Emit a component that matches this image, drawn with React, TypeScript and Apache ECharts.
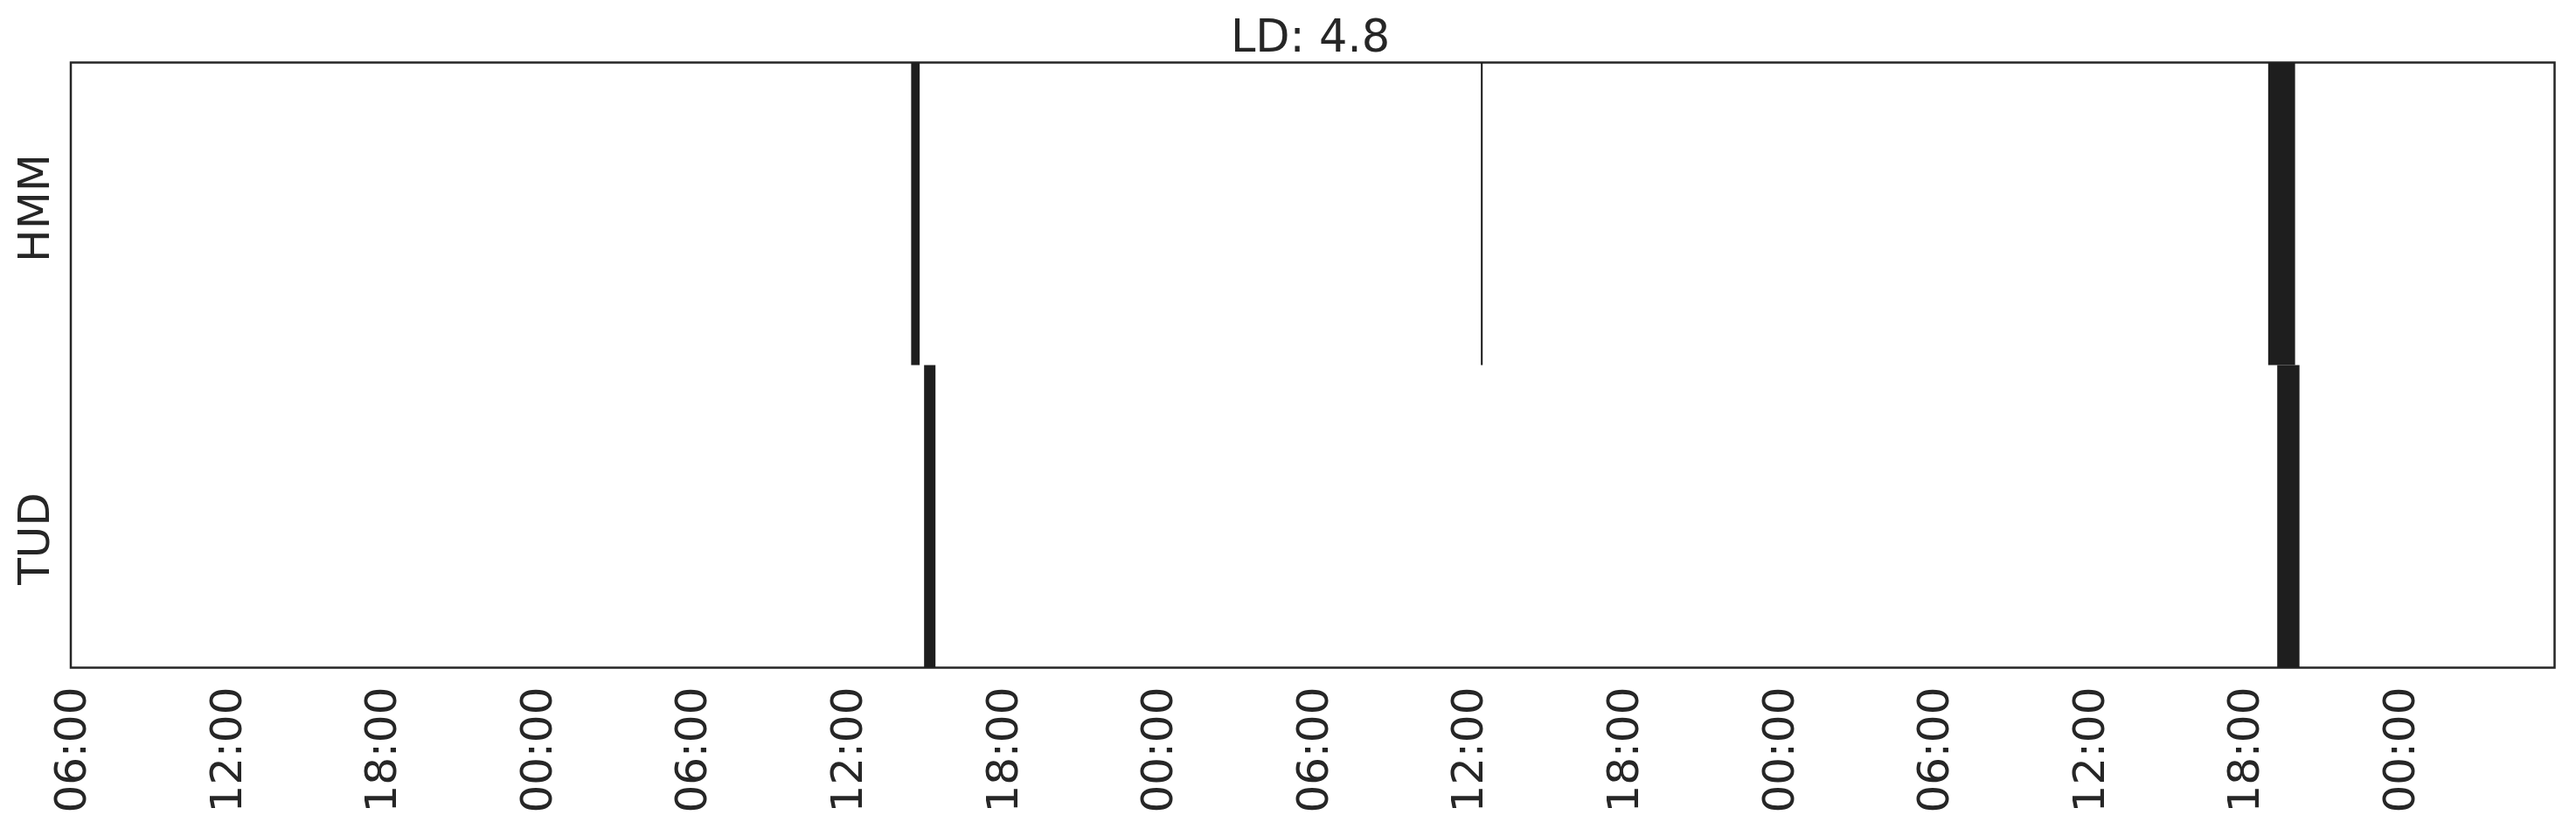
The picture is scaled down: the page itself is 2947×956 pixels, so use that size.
import React, { useEffect, useRef } from "react";
import * as echarts from "echarts";

// Rows (top to bottom)
const rows = ["HMM", "TUD"];
// Tick labels every 6 hours, starting 06:00 on day 1 (hours since start: 0, 6, 12, ...)
const tickLabels = [
  "06:00", "12:00", "18:00", "00:00", "06:00", "12:00", "18:00", "00:00",
  "06:00", "12:00", "18:00", "00:00", "06:00", "12:00", "18:00", "00:00",
];
// Intervals in hours since 06:00 of the first day
const hmmStart = [32.48, 54.5, 84.93];
const hmmEnd = [32.81, 54.57, 85.97];
const tudStart = [32.98, 85.28];
const tudEnd = [33.42, 86.14];
const title = "LD: 4.8";

export default function App() {
  const ref = useRef<HTMLDivElement>(null);
  useEffect(() => {
    if (!ref.current) return;
    const chart = echarts.init(ref.current, null, { renderer: "svg" });
    const data: number[][] = [];
    hmmStart.forEach((s, i) => data.push([0, s, hmmEnd[i]]));
    tudStart.forEach((s, i) => data.push([1, s, tudEnd[i]]));
    const font = "DejaVu Sans";
    const dark = "#262626";
    const labelText = { fontFamily: font, fontSize: 50, color: dark };
    chart.setOption({
      animation: false,
      backgroundColor: "#ffffff",
      title: {
        text: title,
        left: 1494,
        textAlign: "center",
        top: 11,
        textStyle: { fontFamily: font, fontSize: 51, fontWeight: "normal", color: dark },
      },
      grid: {
        left: 81,
        right: 24.5,
        top: 71.5,
        bottom: 192.5,
        show: true,
        borderColor: dark,
        borderWidth: 2.5,
        backgroundColor: "#ffffff",
      },
      xAxis: {
        type: "value",
        min: 0,
        max: 96,
        interval: 6,
        axisLine: { show: false },
        axisTick: { show: false },
        splitLine: { show: false },
        axisLabel: {
          rotate: 90,
          margin: 22,
          showMaxLabel: false,
          ...labelText,
          formatter: (v: number) => tickLabels[Math.round(v / 6)] ?? "",
        },
      },
      yAxis: {
        type: "category",
        data: rows,
        inverse: true,
        axisLine: { show: false },
        axisTick: { show: false },
        splitLine: { show: false },
        axisLabel: {
          rotate: 90,
          margin: 17,
          ...labelText,
          formatter: (v: string) => (v === "HMM" ? "{a|" + v + "}" : "{b|" + v + "}"),
          rich: {
            a: { ...labelText, padding: [0, 0, 0, 13] },
            b: { ...labelText, padding: [0, 51, 0, 0] },
          },
        },
      },
      series: [
        {
          type: "custom",
          encode: { x: [1, 2], y: 0 },
          data,
          renderItem: (params: any, api: any) => {
            const cat = api.value(0);
            const p0 = api.coord([api.value(1), cat]);
            const p1 = api.coord([api.value(2), cat]);
            const h = api.size([0, 1])[1];
            return {
              type: "rect",
              shape: { x: p0[0], y: p0[1] - h / 2, width: Math.max(p1[0] - p0[0], 1), height: h },
              style: { fill: "#1e1e1e" },
            };
          },
        },
      ],
    });
    return () => chart.dispose();
  }, []);
  return (
    <div
      ref={ref}
      style={{ position: "fixed", left: 0, top: 0, width: 2947, height: 956, background: "#fff" }}
    />
  );
}
